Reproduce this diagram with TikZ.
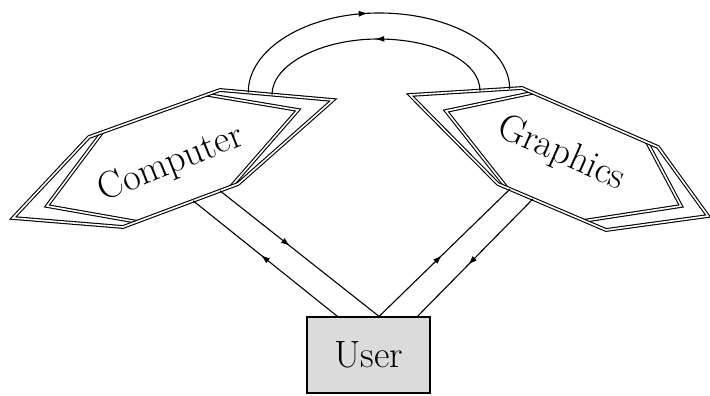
\documentclass[tikz,border=0pt]{standalone}
\usetikzlibrary{calc,arrows.meta,decorations.markings}
\begin{document}
\begin{tikzpicture}[x=1pt,y=-1pt,
  frameline/.style={draw=black, double=white, double distance=1.6pt, line width=1.1pt, line join=miter},
  conn/.style={draw=black, line width=1.1pt},
  midarrow/.style={postaction={decorate}, decoration={markings, mark=at position #1 with {\arrow{Latex[length=9pt,width=6pt]}}}},
  label/.style={font=\fontsize{38}{44}\selectfont, inner sep=0pt},
  userbox/.style={draw=black, line width=1.2pt, fill=gray!28, minimum width=123pt, minimum height=76pt, inner sep=0pt, font=\fontsize{38}{44}\selectfont}
]
\useasboundingbox (0,0) rectangle (710,396);

% ---- Computer frame vertices
\coordinate (CL) at (13,218);
\coordinate (CUL) at (89,137);
\coordinate (CT) at (220,90);
\coordinate (CR) at (333,100);
\coordinate (CLR) at (238,184);
\coordinate (CB) at (123,227);
\coordinate (CIL) at (47,206);
\coordinate (CIR) at (298,110);

% ---- Graphics frame vertices
\coordinate (GL) at (410,95);
\coordinate (GT) at (522,88);
\coordinate (GRU) at (658,147);
\coordinate (GR) at (708,216);
\coordinate (GBB) at (606,230);
\coordinate (GLL) at (498,184);
\coordinate (GIL) at (446,111);
\coordinate (GIR) at (681,206);

% inner chevrons
\draw[frameline] ($(CUL)!0.1!(CT)$) -- (CIL) -- ($(CB)!0.12!(CLR)$);
\draw[frameline] ($(CUL)!0.9!(CT)$) -- (CIR) -- ($(CB)!0.94!(CLR)$);
\draw[frameline] ($(GT)!0.08!(GRU)$) -- (GIL) -- ($(GLL)!0.08!(GBB)$);
\draw[frameline] ($(GT)!0.92!(GRU)$) -- (GIR) -- ($(GLL)!0.8!(GBB)$);
% outer frames
\draw[frameline] (CL) -- (CUL) -- (CT) -- (CR) -- (CLR) -- (CB) -- cycle;
\draw[frameline] (GL) -- (GT) -- (GRU) -- (GR) -- (GBB) -- (GLL) -- cycle;

% labels
\node[label, rotate=22] (comp) at (171,164) {Computer};
\node[label, rotate=-24] (graph) at (561,154) {Graphics};
\node[userbox] (user) at (368.5,355) {User};

% attachment points
\coordinate (oA) at ($(CT)!0.25!(CR)$);
\coordinate (iA) at ($(CT)!0.46!(CR)$);
\coordinate (oB) at ($(GL)!0.89!(GT)$);
\coordinate (iB) at ($(GL)!0.625!(GT)$);
\coordinate (oP) at (379,13);
\coordinate (iP) at (378,39);

\coordinate (cLO) at ($(CB)!0.61!(CLR)$);
\coordinate (cLI) at ($(CB)!0.843!(CLR)$);
\coordinate (gRI) at ($(GLL)!0.111!(GBB)$);
\coordinate (gRO) at ($(GLL)!0.324!(GBB)$);
\coordinate (uLO) at ($(user.north west)!0.25!(user.north east)$);
\coordinate (uM) at ($(user.north west)!0.585!(user.north east)$);
\coordinate (uRO) at ($(user.north west)!0.894!(user.north east)$);

% top arcs
\draw[conn, midarrow=0.47] (oA) .. controls +(0,-44) and +(-72,0) .. (oP) .. controls +(72,0) and +(0,-42) .. (oB);
\draw[conn, midarrow=0.5] (iB) .. controls +(0,-29) and +(57,0) .. (iP) .. controls +(-57,0) and +(0,-30) .. (iA);

% connectors to user
\draw[conn, midarrow=0.53] (uLO) -- (cLO);
\draw[conn, midarrow=0.44] (cLI) -- (uM);
\draw[conn, midarrow=0.48] (uM) -- (gRI);
\draw[conn, midarrow=0.56] (gRO) -- (uRO);
\end{tikzpicture}
\end{document}
